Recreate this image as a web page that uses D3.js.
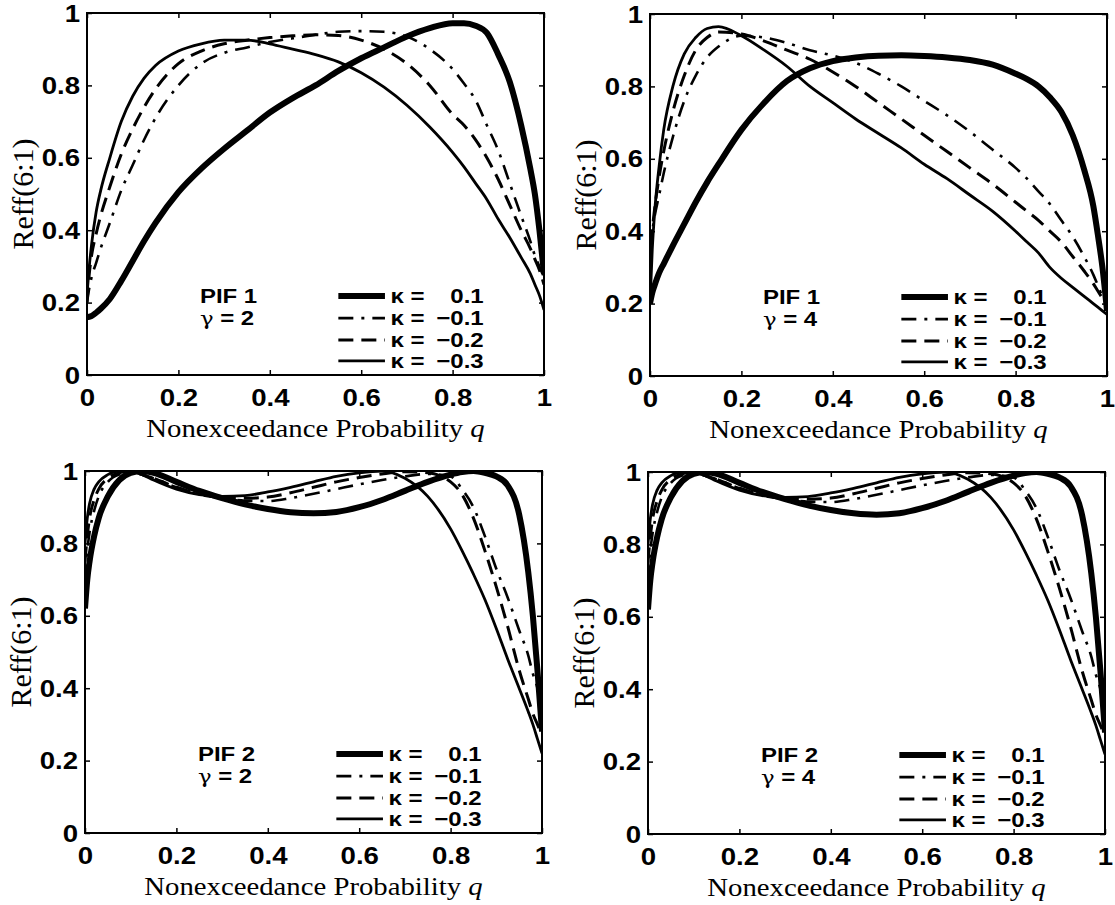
<!DOCTYPE html>
<html><head><meta charset="utf-8">
<script src="https://cdn.jsdelivr.net/npm/d3@7"></script>
<style>body{margin:0;background:#fff}</style>
</head><body>
<svg id="chart" width="1115" height="905"></svg>
<script>
// ---------------- data ----------------
const q = [0, 0.005, 0.01, 0.02, 0.03, 0.05, 0.075, 0.1, 0.125, 0.15, 0.2, 0.25, 0.3, 0.35, 0.4, 0.45, 0.5, 0.55, 0.6, 0.65, 0.7, 0.75, 0.8, 0.825, 0.85, 0.875, 0.9, 0.925, 0.95, 0.97, 0.98, 0.99, 1];
const xTickValues = [0, 0.2, 0.4, 0.6, 0.8, 1];
const xTickLabels = ["0", "0.2", "0.4", "0.6", "0.8", "1"];
const yTickValues = [0, 0.2, 0.4, 0.6, 0.8, 1];
const yTickLabels = ["0", "0.2", "0.4", "0.6", "0.8", "1"];
const kappaLabels = ["0.1", "\u22120.1", "\u22120.2", "\u22120.3"];
const pifLabels = ["PIF 1", "PIF 1", "PIF 2", "PIF 2"];
const gammaValues = ["2", "4", "2", "4"];
const xTitle = "Nonexceedance Probability ";
const yTitle = "Reff(6:1)";

// PIF 1, gamma = 2
const p1_k01  = [.16,.161,.163,.172,.183,.21,.26,.315,.37,.42,.505,.57,.625,.675,.725,.765,.80,.84,.875,.905,.935,.958,.972,.972,.965,.945,.885,.81,.69,.57,.50,.40,.28];
const p1_km01 = [.2,.24,.27,.31,.35,.42,.51,.58,.65,.71,.80,.86,.89,.905,.92,.93,.94,.948,.95,.948,.935,.90,.845,.805,.76,.69,.62,.53,.44,.37,.33,.30,.27];
const p1_km02 = [.2,.28,.33,.39,.44,.52,.61,.68,.74,.79,.86,.895,.915,.925,.932,.937,.94,.938,.925,.90,.86,.80,.72,.69,.65,.60,.54,.47,.40,.35,.32,.29,.25];
const p1_km03 = [.22,.3,.36,.45,.51,.6,.7,.77,.82,.855,.895,.915,.925,.925,.915,.9,.885,.865,.835,.795,.745,.685,.615,.575,.53,.485,.43,.38,.325,.28,.25,.22,.18];
// PIF 1, gamma = 4
const p2_k01  = [.2,.23,.25,.285,.31,.36,.42,.48,.535,.585,.68,.755,.815,.85,.87,.88,.885,.886,.884,.88,.873,.86,.835,.82,.80,.77,.73,.665,.57,.47,.39,.30,.18];
const p2_km01 = [.35,.4,.44,.5,.56,.66,.76,.83,.88,.91,.94,.935,.92,.9,.885,.865,.835,.8,.76,.72,.675,.625,.575,.545,.51,.475,.43,.385,.33,.28,.25,.22,.2];
const p2_km02 = [.3,.4,.46,.55,.62,.73,.83,.9,.935,.95,.945,.925,.9,.875,.84,.8,.755,.71,.665,.62,.575,.53,.48,.455,.43,.4,.37,.33,.29,.255,.235,.215,.2];
const p2_km03 = [.2,.35,.45,.58,.68,.8,.89,.935,.96,.965,.94,.9,.855,.8,.755,.71,.67,.63,.585,.545,.5,.455,.4,.37,.34,.3,.27,.245,.22,.2,.19,.18,.17];
// PIF 2, gamma = 2
const p3_k01  = [.62,.7,.75,.82,.87,.93,.975,.995,1.0,.995,.97,.945,.925,.908,.895,.886,.883,.887,.9,.92,.945,.97,.99,.997,1.0,.995,.985,.96,.88,.72,.6,.45,.28];
const p3_km01 = [.7,.78,.83,.89,.93,.97,.99,.995,.99,.98,.955,.935,.925,.918,.917,.925,.937,.95,.963,.975,.985,.992,.985,.95,.9,.82,.73,.65,.56,.49,.44,.4,.33];
const p3_km02 = [.75,.82,.87,.92,.95,.98,.995,1.0,.99,.98,.955,.937,.928,.925,.928,.94,.955,.97,.982,.992,.998,.995,.97,.935,.87,.78,.68,.57,.45,.37,.33,.3,.27];
const p3_km03 = [.8,.87,.91,.95,.97,.99,1.0,1.0,.99,.975,.95,.935,.93,.932,.942,.955,.97,.985,.995,1.0,.98,.93,.84,.78,.715,.645,.565,.48,.4,.335,.3,.26,.22];
// PIF 2, gamma = 4
const p4_k01  = [.62,.7,.75,.82,.87,.93,.975,.995,1.0,.995,.97,.945,.925,.908,.895,.886,.882,.886,.9,.92,.945,.97,.99,.997,1.0,.995,.985,.96,.88,.72,.6,.45,.28];
const p4_km01 = [.7,.78,.83,.89,.93,.97,.99,.995,.99,.98,.955,.935,.925,.918,.917,.925,.937,.95,.963,.975,.985,.992,.985,.95,.9,.82,.73,.65,.56,.49,.44,.4,.33];
const p4_km02 = [.75,.82,.87,.92,.95,.98,.995,1.0,.99,.98,.955,.937,.928,.925,.928,.94,.955,.97,.982,.992,.998,.995,.97,.935,.87,.78,.68,.57,.45,.37,.33,.3,.27];
const p4_km03 = [.8,.87,.91,.95,.97,.99,1.0,1.0,.99,.975,.95,.935,.93,.932,.942,.955,.97,.985,.995,1.0,.98,.93,.84,.78,.715,.645,.565,.48,.4,.335,.3,.26,.22];

const panelSeries = [
  [p1_k01, p1_km01, p1_km02, p1_km03],
  [p2_k01, p2_km01, p2_km02, p2_km03],
  [p3_k01, p3_km01, p3_km02, p3_km03],
  [p4_k01, p4_km01, p4_km02, p4_km03]
];

// ---------------- layout / style ----------------
const W = 457, H = 362;
const origins = [[87, 13], [650, 14], [85, 471], [648, 472]];
const seriesStyle = [
  {w: 6, dash: null},
  {w: 2.6, dash: "15,8,3,8"},
  {w: 3, dash: "15,8"},
  {w: 2.8, dash: null}
];
const SX = 1.2;               // horizontal stretch of the scanned lettering
const sansBold = "'Liberation Sans', Arial, Helvetica, sans-serif";
const serif = "'Liberation Serif', 'Times New Roman', serif";

const svg = d3.select("#chart");

function stretchedText(parent, x, y, str, size, family, weight, anchor) {
  return parent.append("text")
    .attr("transform", `translate(${x},${y}) scale(${SX},1)`)
    .attr("text-anchor", anchor || "start")
    .style("font-family", family)
    .style("font-size", size + "px")
    .style("font-weight", weight || "normal")
    .attr("fill", "#000")
    .text(str);
}

panelSeries.forEach((series, pi) => {
  const [ox, oy] = origins[pi];
  const g = svg.append("g").attr("transform", `translate(${ox},${oy})`);
  const x = d3.scaleLinear().domain([0, 1]).range([0, W]);
  const y = d3.scaleLinear().domain([0, 1]).range([H, 0]);

  const clipId = "clip" + pi;
  g.append("clipPath").attr("id", clipId)
    .append("rect").attr("x", 0).attr("y", 0).attr("width", W).attr("height", H);

  const line = d3.line()
    .x((d, i) => x(q[i]))
    .y(d => y(d))
    .curve(d3.curveMonotoneX);

  const lg = g.append("g").attr("clip-path", `url(#${clipId})`);
  series.forEach((vals, si) => {
    const st = seriesStyle[si];
    lg.append("path")
      .datum(vals)
      .attr("d", line)
      .attr("fill", "none")
      .attr("stroke", "#000")
      .attr("stroke-width", st.w)
      .attr("stroke-linejoin", "round")
      .attr("stroke-dasharray", st.dash);
  });

  // inward ticks on all four sides
  const tickLen = 5;
  const axB = g.append("g").attr("transform", `translate(0,${H})`)
    .call(d3.axisBottom(x).tickValues(xTickValues).tickSize(-tickLen).tickFormat((d, i) => xTickLabels[i]));
  const axT = g.append("g")
    .call(d3.axisTop(x).tickValues(xTickValues).tickSize(-tickLen).tickFormat(""));
  const axL = g.append("g")
    .call(d3.axisLeft(y).tickValues(yTickValues).tickSize(-tickLen).tickFormat((d, i) => yTickLabels[i]));
  const axR = g.append("g").attr("transform", `translate(${W},0)`)
    .call(d3.axisRight(y).tickValues(yTickValues).tickSize(-tickLen).tickFormat(""));
  [axB, axT, axL, axR].forEach(a => {
    a.select(".domain").remove();
    a.selectAll(".tick line").attr("stroke", "#000").attr("stroke-width", 1.5);
  });
  axB.selectAll(".tick text")
    .attr("y", null).attr("dy", null)
    .attr("transform", `translate(0,31) scale(${SX},1)`)
    .attr("text-anchor", "middle")
    .style("font-family", sansBold).style("font-size", "23px").style("font-weight", "bold")
    .attr("fill", "#000");
  axL.selectAll(".tick text")
    .attr("x", null).attr("dy", null)
    .attr("transform", `translate(-7,8) scale(${SX},1)`)
    .attr("text-anchor", "end")
    .style("font-family", sansBold).style("font-size", "23px").style("font-weight", "bold")
    .attr("fill", "#000");

  // frame
  g.append("rect").attr("x", 0).attr("y", 0).attr("width", W).attr("height", H)
    .attr("fill", "none").attr("stroke", "#000").attr("stroke-width", 2);

  // axis titles
  const xt = g.append("text")
    .attr("transform", `translate(${W / 2},${H + 62}) scale(1.15,1)`)
    .attr("text-anchor", "middle")
    .style("font-family", serif).style("font-size", "25px")
    .attr("fill", "#000");
  xt.append("tspan").text(xTitle);
  xt.append("tspan").style("font-style", "italic").text("q");

  g.append("text")
    .attr("transform", `translate(-54,${H / 2}) rotate(-90)`)
    .attr("text-anchor", "middle")
    .style("font-family", serif).style("font-size", "30px")
    .attr("fill", "#000")
    .text(yTitle);

  // annotation and legend
  const rowY = [0.218, 0.157, 0.097, 0.039];
  stretchedText(g, x(0.247), y(rowY[0]) + 7, pifLabels[pi], 20, sansBold, "bold");
  const gt = stretchedText(g, x(0.247), y(rowY[1]) + 7, "", 20, sansBold, "bold");
  gt.append("tspan").style("font-family", "'DejaVu Serif', serif").style("font-weight", "normal").style("font-size", "19px").text("\u03b3");
  gt.append("tspan").text(" = " + gammaValues[pi]);

  seriesStyle.forEach((st, si) => {
    const yy = y(rowY[si]);
    g.append("line")
      .attr("x1", x(0.55)).attr("x2", x(0.652))
      .attr("y1", yy).attr("y2", yy)
      .attr("stroke", "#000")
      .attr("stroke-width", st.w)
      .attr("stroke-dasharray", st.dash);
    stretchedText(g, x(0.664), yy + 7, "\u03ba =", 20, sansBold, "bold");
    stretchedText(g, x(0.868), yy + 7, kappaLabels[si], 20, sansBold, "bold", "end");
  });
});
</script>
</body></html>
